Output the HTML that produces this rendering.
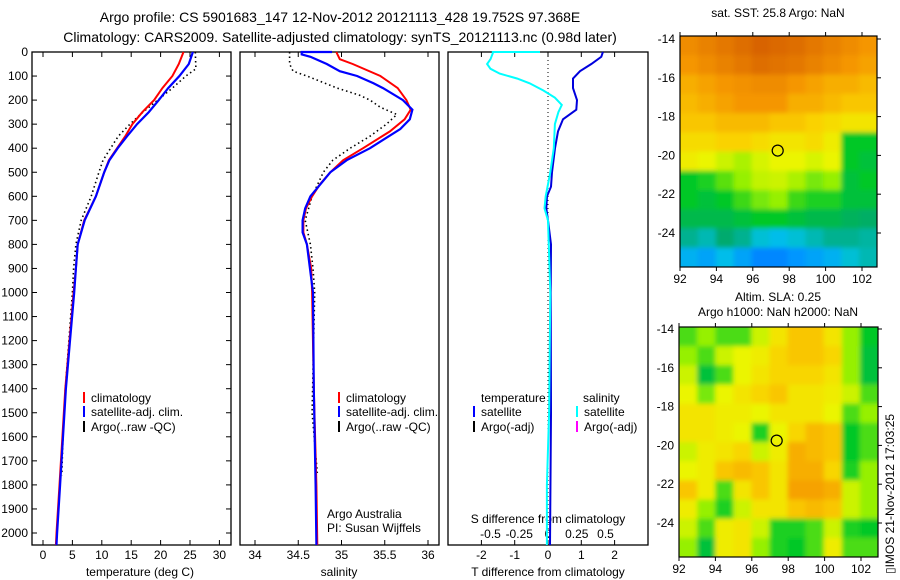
<!DOCTYPE html>
<html><head><meta charset="utf-8"><style>
html,body{margin:0;padding:0;background:#fff;}
svg{display:block;font-family:"Liberation Sans",sans-serif;}
text{font-size:12px;fill:#000;}
</style></head><body>
<svg id="fig" width="900" height="580" viewBox="0 0 900 580">
<defs>
<filter id="blr" filterUnits="userSpaceOnUse" x="660" y="20" width="240" height="560"><feGaussianBlur stdDeviation="2.5"/></filter>
<clipPath id="clipA"><rect x="680" y="36" width="197" height="231"/></clipPath>
<clipPath id="clipB"><rect x="679" y="327" width="199" height="230"/></clipPath>
</defs>
<text x="340" y="22" text-anchor="middle" style="font-size:14px">Argo profile: CS 5901683_147 12-Nov-2012 20121113_428 19.752S 97.368E</text>
<text x="340" y="42" text-anchor="middle" style="font-size:14px">Climatology: CARS2009. Satellite-adjusted climatology: synTS_20121113.nc (0.98d later)</text>
<g id="g"></g>
</svg>
<script>
// ---- data ----
const tClimDepth=[0,50,100,150,200,250,300,350,400,450,500,600,700,800,900,1000,1200,1400,1600,1800,2000,2050];
const tClimVal=[23.9,23.1,22.0,20.3,18.9,16.9,15.2,14.0,12.6,11.2,10.4,9.0,7.0,5.9,5.6,5.2,4.5,3.8,3.3,2.8,2.3,2.2];
const tSatDepth=[0,50,100,150,200,250,300,350,400,450,500,600,700,800,900,1000,1200,1400,1600,1800,2000,2050];
const tSatVal=[25.5,24.8,23.2,21.3,19.7,18.0,16.0,14.3,12.7,11.3,10.4,9.0,7.1,5.9,5.6,5.3,4.6,3.9,3.4,2.9,2.4,2.3];
const tArgoDepth=[0,70,100,150,200,250,300,350,400,450,500,600,700,800,900,1000,1200,1400,1600,1760];
const tArgoVal=[25.9,26.0,24.3,22.0,19.5,17.0,14.8,12.8,11.5,10.2,9.5,8.2,6.5,5.6,5.2,5.0,4.4,3.8,3.4,3.2];
const sClimDepth=[0,30,50,100,150,200,240,280,330,400,450,500,550,600,650,700,750,800,900,1000,1400,1800,2050];
const sClimVal=[34.94,34.98,35.13,35.45,35.65,35.75,35.80,35.73,35.56,35.25,35.02,34.87,34.75,34.66,34.59,34.56,34.56,34.60,34.65,34.66,34.68,34.71,34.72];
const sSatDepth=[0,0,10,20,50,80,100,130,150,200,240,280,320,400,450,500,600,650,700,750,800,1000,1400,1800,2050];
const sSatVal=[34.89,34.54,34.54,34.64,34.83,34.98,35.18,35.37,35.48,35.71,35.82,35.79,35.68,35.33,35.06,34.87,34.64,34.58,34.55,34.55,34.60,34.67,34.68,34.70,34.71];
const sArgoDepth=[0,50,80,100,150,180,200,230,260,300,350,400,450,500,600,700,800,900,1000,1500,1750];
const sArgoVal=[34.40,34.40,34.44,34.60,34.95,35.21,35.33,35.45,35.64,35.52,35.33,35.10,34.90,34.79,34.66,34.58,34.64,34.67,34.69,34.66,34.72];
const dTDepth=[0,20,50,80,110,150,200,240,280,330,400,500,560,600,650,700,800,1000,1500,2050];
const dTVal=[1.65,1.6,1.3,0.96,0.75,0.75,0.87,0.85,0.45,0.3,0.21,0.12,0.09,-0.03,-0.05,0,0.09,0.08,0.09,0.06];
const dSDepth=[0,0,5,30,50,70,90,110,130,160,190,220,250,300,400,500,600,650,700,1000,1500,1800,2050];
const dSVal=[-0.07,-0.48,-0.48,-0.5,-0.53,-0.5,-0.42,-0.27,-0.16,-0.04,0.06,0.12,0.09,0.06,0.05,0.02,-0.02,-0.03,0,0.02,0.01,-0.01,-0.01];
const depthTicks=[0,100,200,300,400,500,600,700,800,900,1000,1100,1200,1300,1400,1500,1600,1700,1800,1900,2000];
const tempTicks=[0,5,10,15,20,25,30];
const salTicks=[34,34.5,35,35.5,36];
const dTTicks=[-2,-1,0,1,2];
const dSTicks=[-0.5,-0.25,0,0.25,0.5];
const lonTicks=[92,94,96,98,100,102];
const latTicks=[-14,-16,-18,-20,-22,-24];
const sstGrid=[
[.78,.80,.82,.84,.86,.85,.84,.82,.80,.78,.76],
[.76,.78,.80,.82,.84,.83,.82,.80,.78,.76,.74],
[.72,.74,.76,.77,.78,.78,.76,.74,.72,.72,.70],
[.70,.72,.74,.76,.76,.76,.72,.72,.70,.68,.68],
[.68,.68,.70,.70,.70,.68,.68,.66,.64,.62,.62],
[.64,.64,.66,.66,.64,.62,.62,.64,.60,.40,.40],
[.60,.58,.55,.52,.56,.58,.58,.56,.58,.40,.38],
[.40,.42,.46,.50,.54,.55,.52,.48,.50,.38,.40],
[.40,.38,.40,.44,.48,.50,.44,.42,.42,.38,.38],
[.36,.36,.36,.38,.40,.40,.38,.36,.36,.34,.33],
[.30,.28,.32,.30,.26,.24,.26,.28,.30,.30,.29],
[.22,.20,.24,.20,.16,.16,.18,.20,.22,.26,.28]];
const slaGrid=[
[.45,.50,.45,.45,.55,.62,.68,.68,.62,.50,.40],
[.50,.45,.55,.58,.60,.65,.68,.68,.65,.50,.38],
[.55,.38,.45,.58,.62,.65,.65,.65,.62,.50,.38],
[.58,.48,.58,.62,.65,.68,.62,.62,.60,.55,.45],
[.62,.62,.60,.60,.58,.62,.62,.62,.58,.45,.50],
[.62,.62,.60,.58,.42,.58,.65,.70,.68,.40,.45],
[.55,.60,.62,.65,.55,.60,.72,.70,.68,.40,.45],
[.58,.60,.68,.70,.68,.62,.72,.72,.65,.42,.50],
[.68,.60,.45,.62,.68,.62,.74,.74,.72,.55,.50],
[.60,.50,.42,.55,.62,.62,.68,.70,.68,.55,.50],
[.55,.45,.60,.62,.55,.42,.42,.45,.55,.42,.40],
[.50,.38,.60,.62,.50,.42,.40,.45,.60,.45,.45]];

// ---- helpers ----
const NS='http://www.w3.org/2000/svg';
const G=document.getElementById('g');
function mk(tag,attrs,parent){const e=document.createElementNS(NS,tag);for(const k in attrs)e.setAttribute(k,attrs[k]);(parent||G).appendChild(e);return e;}
const yD=d=>52+d*0.2405;
const xT=v=>43+v*5.88;
const xS=v=>255+(v-34)*86.5;
const xdT=v=>548+v*33.3;
const xdS=v=>548+v*115;
function line(depths,vals,xf,color,w,dash,name){
  const pts=depths.map((d,i)=>xf(vals[i]).toFixed(1)+','+yD(d).toFixed(1)).join(' ');
  const p=mk('polyline',{points:pts,fill:'none',stroke:color,'stroke-width':w});
  if(dash)p.setAttribute('stroke-dasharray',dash);
  
  
}
function txt(x,y,s,anchor,name,size){const t=mk('text',{x:x,y:y,'text-anchor':anchor||'start'});t.textContent=s;if(size)t.style.fontSize=size;
  
  
  return t;}
function frame(x0,x1,name){const r=mk('rect',{x:x0,y:52,width:x1-x0,height:493,fill:'none',stroke:'#000','stroke-width':1.3});
  
  }
// panels
frame(32,231,'temperature-panel');frame(240,439,'salinity-panel');frame(448,648,'difference-panel');
depthTicks.forEach(d=>{const y=yD(d);mk('line',{x1:32,y1:y,x2:37,y2:y,stroke:'#000'});mk('line',{x1:226,y1:y,x2:231,y2:y,stroke:'#000'});
  txt(28,y+4,String(d),'end','depth-tick-label');});
tempTicks.forEach(v=>{const x=xT(v);mk('line',{x1:x,y1:52,x2:x,y2:57,stroke:'#000'});mk('line',{x1:x,y1:540,x2:x,y2:545,stroke:'#000'});txt(x,559,String(v),'middle','temp-tick-label');});
salTicks.forEach(v=>{const x=xS(v);mk('line',{x1:x,y1:52,x2:x,y2:57,stroke:'#000'});mk('line',{x1:x,y1:540,x2:x,y2:545,stroke:'#000'});txt(x,559,String(v),'middle','salinity-tick-label');});
dTTicks.forEach(v=>{const x=xdT(v);mk('line',{x1:x,y1:52,x2:x,y2:57,stroke:'#000'});mk('line',{x1:x,y1:540,x2:x,y2:545,stroke:'#000'});txt(x,559,String(v),'middle','t-diff-tick-label');});
dSTicks.forEach(v=>{txt(xdS(v),538,String(v),'middle','s-diff-tick-label');});
txt(140,576,'temperature (deg C)','middle','temperature-axis-title');
txt(339,576,'salinity','middle','salinity-axis-title');
txt(548,576,'T difference from climatology','middle','t-diff-axis-title');
txt(548,523,'S difference from climatology','middle','s-diff-axis-title');
// zero line
const zl=mk('line',{x1:548,y1:52,x2:548,y2:545,stroke:'#000','stroke-dasharray':'1,3'});


// series
line(tArgoDepth,tArgoVal,xT,'#000',1.6,'1.5,3','temp-argo');
line(tClimDepth,tClimVal,xT,'#ff0000',2,null,'temp-climatology');
line(tSatDepth,tSatVal,xT,'#0000ff',2.2,null,'temp-satellite');
line(sArgoDepth,sArgoVal,xS,'#000',1.6,'1.5,3','salinity-argo');
line(sClimDepth,sClimVal,xS,'#ff0000',2,null,'salinity-climatology');
line(sSatDepth,sSatVal,xS,'#0000ff',2.2,null,'salinity-satellite');
line(dTDepth,dTVal,xdT,'#0000dd',2,null,'t-diff-satellite');
line(dSDepth,dSVal,xdS,'#00ffff',2,null,'s-diff-satellite');
// legends
function leg(x,y,color,label,name){const l=mk('line',{x1:x,y1:y-10,x2:x,y2:y+1,stroke:color,'stroke-width':2});
  
  
  txt(x+7,y,label,'start',name);}
leg(84,402,'#ff0000','climatology','legend-temp-climatology');
leg(84,416,'#0000ff','satellite-adj. clim.','legend-temp-satellite');
leg(84,431,'#000','Argo(..raw -QC)','legend-temp-argo');
leg(339,402,'#ff0000','climatology','legend-sal-climatology');
leg(339,416,'#0000ff','satellite-adj. clim.','legend-sal-satellite');
leg(339,431,'#000','Argo(..raw -QC)','legend-sal-argo');
txt(481,402,'temperature','start','legend-temperature-heading');
txt(583,402,'salinity','start','legend-salinity-heading');
leg(474,416,'#0000ff','satellite','legend-t-satellite');
leg(474,431,'#000','Argo(-adj)','legend-t-argo');
leg(577,416,'#00ffff','satellite','legend-s-satellite');
leg(577,431,'#ff00ff','Argo(-adj)','legend-s-argo');
txt(327,518,'Argo Australia','start','institution-label');
txt(327,532,'PI: Susan Wijffels','start','pi-label');
// maps
const cmapStops=[[0.10,[0,90,255]],[0.18,[0,150,255]],[0.25,[0,195,230]],[0.32,[0,170,110]],[0.40,[0,200,40]],[0.50,[150,240,0]],[0.58,[235,245,0]],[0.66,[250,210,0]],[0.76,[245,150,0]],[0.88,[210,90,0]]];
function cmap(v){for(let i=1;i<cmapStops.length;i++){if(v<=cmapStops[i][0]){const a=cmapStops[i-1],b=cmapStops[i];const t=Math.max(0,(v-a[0])/(b[0]-a[0]));return 'rgb('+a[1].map((c,k)=>Math.round(c+(b[1][k]-c)*t)).join(',')+')';}}return 'rgb(210,90,0)';}
function drawMap(grid,x0,x1,yTop,yBot,lat14y,clip,name){
  const lx=v=>x0+(v-92)*18.2;
  const ly=v=>lat14y+(-14-v)*19.4;
  const grp=mk('g',{'clip-path':'url(#'+clip+')'});
  
  
  const inner=mk('g',{filter:'url(#blr)'},grp);
  const rows=grid.length,cols=grid[0].length;
  const cw=(x1-x0)/cols,ch=(yBot-yTop)/rows;
  grid.forEach((row,r)=>row.forEach((v,c)=>{
    const rc=mk('rect',{x:x0+c*cw-(c==0?6:0),y:yTop+r*ch-(r==0?6:0),width:cw+0.6+(c==0||c==cols-1?6:0),height:ch+0.6+(r==0||r==rows-1?6:0),fill:cmap(v)},inner);
    
    
  }));
  const fr=mk('rect',{x:x0,y:yTop,width:x1-x0,height:yBot-yTop,fill:'none',stroke:'#000','stroke-width':1.2});
  
  
  lonTicks.forEach(v=>{const x=lx(v);mk('line',{x1:x,y1:yTop,x2:x,y2:yTop-4,stroke:'#000'});mk('line',{x1:x,y1:yBot,x2:x,y2:yBot+4,stroke:'#000'});txt(x,yBot+16,String(v),'middle','lon-tick-label');});
  latTicks.forEach(v=>{const y=ly(v);mk('line',{x1:x1,y1:y,x2:x1+4,y2:y,stroke:'#000'});txt(x0-5,y+4,String(v),'end','lat-tick-label');});
  const c=mk('circle',{cx:lx(97.368),cy:ly(-19.752),r:5.5,fill:'none',stroke:'#000','stroke-width':1.2});
  
  
}
drawMap(sstGrid,680,877,36,267,39,'clipA','sst-map');
drawMap(slaGrid,679,878,327,557,329,'clipB','sla-map');
txt(778,17,'sat. SST: 25.8 Argo: NaN','middle','sst-map-title');
txt(778,301,'Altim. SLA: 0.25','middle','sla-map-title');
txt(778,316,'Argo h1000: NaN h2000: NaN','middle','sla-map-subtitle');
const st=txt(0,0,'\u25AFIMOS 21-Nov-2012 17:03:25','start','imos-timestamp');
st.setAttribute('transform','translate(894,574) rotate(-90)');
</script>
</body></html>
